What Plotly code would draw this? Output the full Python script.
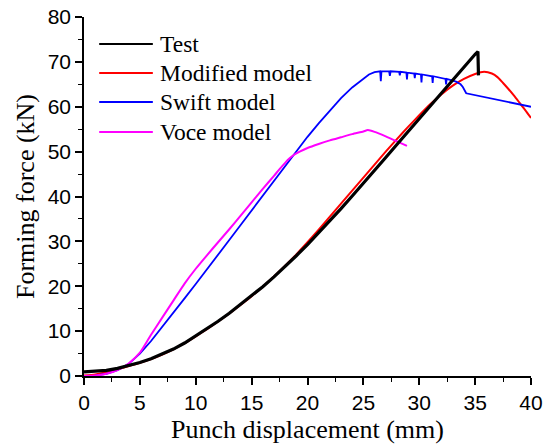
import plotly.graph_objects as go

# Punch displacement (mm) / forming force (kN) for each curve
test_x = [0, 1, 2, 3, 4, 5, 6, 7, 8, 9, 10, 11, 12, 13, 14, 15, 16, 17, 18, 19, 20,
          21, 22, 23, 24, 25, 26, 27, 28, 29, 30, 31, 32, 33, 34, 35, 35.25, 35.3]
test_y = [0.9, 1.0, 1.25, 1.7, 2.3, 3.0, 3.85, 4.85, 6.0, 7.35, 8.9, 10.5, 12.2, 14.0,
          15.9, 17.8, 19.9, 22.1, 24.4, 26.8, 29.3, 31.9, 34.6, 37.3, 40.1, 42.9, 45.8,
          48.7, 51.6, 54.5, 57.4, 60.3, 63.2, 66.1, 69.0, 71.7, 72.3, 67.0]

modified_x = [0, 1, 2, 3, 4, 5, 6, 7, 8, 9, 10, 11, 12, 13, 14, 15, 16, 17, 18, 19, 20,
              21, 22, 23, 24, 25, 26, 27, 28, 29, 30, 31, 32, 33, 34, 35, 35.8, 36.5, 37,
              37.5, 38, 38.5, 39, 39.5, 40]
modified_y = [0.1, 0.35, 0.85, 1.5, 2.2, 2.95, 3.8, 4.8, 5.95, 7.3, 8.85, 10.45, 12.15,
              13.95, 15.85, 17.8, 19.9, 22.15, 24.55, 27.1, 29.8, 32.6, 35.5, 38.4, 41.3,
              44.2, 47.1, 50.0, 52.8, 55.5, 58.1, 60.6, 62.8, 64.7, 66.2, 67.3, 67.8, 67.4,
              66.6, 65.3, 63.9, 62.4, 60.8, 59.2, 57.5]

swift_x = [0, 1, 2, 3, 4, 5, 6, 7, 8, 9, 10, 11, 12, 13, 14, 15, 16, 17, 18, 18.6, 19,
           20, 21, 22, 23, 24, 25, 25.5, 26, 26.5, 26.56, 26.62,
           27.3, 27.37, 27.44, 28.2, 28.26, 28.32, 28.85, 28.9, 28.95, 29.55, 29.6, 29.65,
           30.15, 30.2, 30.25, 31.15, 31.2, 31.25, 32.35, 32.4, 32.45, 33.3, 33.7, 33.9,
           34.2, 40]
swift_y = [0, 0.1, 0.5, 1.3, 2.7, 5.0, 7.8, 10.9, 14.1, 17.3, 20.5, 23.7, 27.0, 30.3,
           33.6, 36.9, 40.2, 43.5, 46.8, 48.8, 50.1, 53.3, 56.3, 59.2, 61.9, 64.3, 66.3,
           67.2, 67.7, 67.9, 65.7, 67.9, 67.9, 66.9, 67.9, 67.8, 67.0, 67.8, 67.6,
           66.1, 67.6, 67.4, 66.4, 67.4, 67.2, 65.4, 67.2, 66.8, 65.3, 66.8, 66.2, 65.0,
           66.2, 65.6, 65.0, 64.4, 63.0, 60.0]

voce_x = [0, 1, 2, 3, 4, 5, 6, 7, 8, 9, 10, 11, 12, 13, 14, 15, 16, 17, 17.5, 18, 18.4,
          18.8, 19.3, 20, 21, 22, 23, 24, 25, 25.4, 26, 27, 28, 28.9]
voce_y = [0, 0.1, 0.5, 1.3, 2.8, 5.2, 9.2, 13.0, 16.8, 20.6, 23.9, 26.9, 29.8, 32.7,
          35.7, 38.7, 41.7, 44.6, 46.1, 47.5, 48.5, 49.3, 50.0, 50.8, 51.7, 52.5, 53.2,
          53.9, 54.5, 54.8, 54.4, 53.4, 52.3, 51.3]

series_names = ["Test", "Modified model", "Swift model", "Voce model"]
series_colors = ["#000000", "#ff0000", "#0000ff", "#ff00ff"]
series_widths = [3.2, 2, 1.8, 2]
series_shapes = ["linear", "spline", "linear", "spline"]
series_data = [(test_x, test_y), (modified_x, modified_y),
               (swift_x, swift_y), (voce_x, voce_y)]

x_ticks = [0, 5, 10, 15, 20, 25, 30, 35, 40]
y_ticks = [0, 10, 20, 30, 40, 50, 60, 70, 80]

fig = go.Figure()
# draw the simulated curves first, test curve on top
for idx in [1, 2, 3, 0]:
    xs, ys = series_data[idx]
    fig.add_trace(go.Scatter(
        x=xs, y=ys, mode="lines", name=series_names[idx], showlegend=False,
        line=dict(color=series_colors[idx], width=series_widths[idx],
                  shape=series_shapes[idx], smoothing=0.6),
    ))

# legend: long line samples with serif labels, top-left of the plot
row_y = [0.925, 0.844, 0.763, 0.680]
for name, color, yy in zip(series_names, series_colors, row_y):
    fig.add_shape(type="line", xref="paper", yref="paper",
                  x0=0.034, x1=0.154, y0=yy, y1=yy,
                  line=dict(color=color, width=2))
    fig.add_annotation(xref="paper", yref="paper", x=0.166, y=yy,
                       text=name, showarrow=False, xanchor="left", yanchor="middle",
                       font=dict(family="Liberation Serif", size=23.5, color="#000000"))

axis_common = dict(
    showline=True, linecolor="#000000", linewidth=1.5, mirror=False,
    showgrid=False, zeroline=False, automargin=False,
    ticks="outside", ticklen=7, tickwidth=1.5, tickcolor="#000000",
    tickfont=dict(family="Liberation Sans", size=21, color="#000000"),
)

fig.update_xaxes(
    range=[0, 40], tickvals=x_ticks, ticktext=[str(v) for v in x_ticks],
    minor=dict(ticks="outside", ticklen=4, tickwidth=1.2, tickcolor="#000000", dtick=2.5),
    title=dict(text="Punch displacement (mm)", standoff=8,
               font=dict(family="Liberation Serif", size=26, color="#000000")),
    **axis_common,
)
fig.update_yaxes(
    range=[0, 80], tickvals=y_ticks, ticktext=[str(v) for v in y_ticks],
    minor=dict(ticks="outside", ticklen=4, tickwidth=1.2, tickcolor="#000000", dtick=5),
    title=dict(text="Forming force (kN)", standoff=6,
               font=dict(family="Liberation Serif", size=26, color="#000000")),
    **axis_common,
)

fig.update_layout(
    width=553, height=444,
    margin=dict(l=84, r=22, t=17, b=68),
    paper_bgcolor="#ffffff", plot_bgcolor="#ffffff",
)

fig.write_html("out.html")
